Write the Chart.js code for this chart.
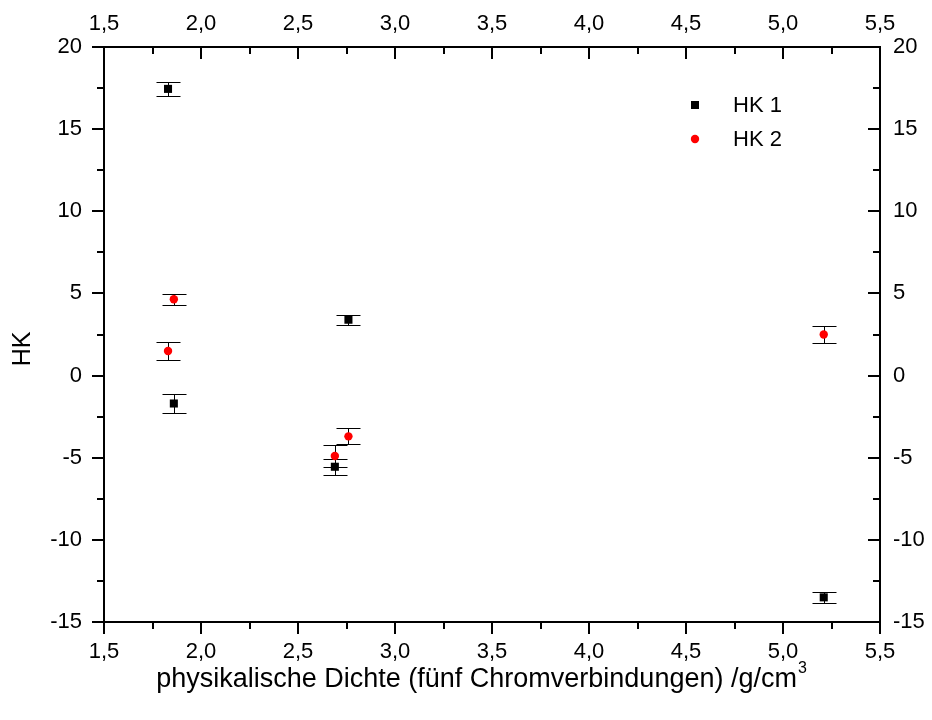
<!DOCTYPE html>
<html lang="de">
<head>
<meta charset="UTF-8">
<title>HK gegen physikalische Dichte</title>
<script src="https://cdn.jsdelivr.net/npm/chart.js"></script>
<style>
  html, body { margin: 0; padding: 0; background: #fff; }
  #wrap { width: 932px; height: 720px; }
</style>
</head>
<body>
<div id="wrap"><canvas id="hkChart" width="932" height="720"></canvas></div>
<script>
// Daten
const dichte = [1.83, 1.86, 2.69, 2.76, 5.21];
const hk1 = [17.45, -1.7, -5.55, 3.4, -13.5];
const hk1Fehler = [0.45, 0.6, 0.5, 0.3, 0.32];
const hk2 = [1.5, 4.65, -4.9, -3.7, 2.5];
const hk2Fehler = [0.54, 0.33, 0.69, 0.48, 0.54];
const serienNamen = ["HK 1", "HK 2"];
const xTitel = "physikalische Dichte (fünf Chromverbindungen) /g/cm";
const yTitel = "HK";

const FONT = "'Liberation Sans', Arial, sans-serif";
const komma = v => Number(v).toFixed(1).replace(".", ",");
const ganz = v => String(Math.round(v));

function punkte(ys) {
    return dichte.map((d, i) => ({ x: d, y: ys[i] }));
}

function achse(pos, min, max, step, cb, pad, groesse) {
    return {
        type: "linear",
        position: pos,
        min: min,
        max: max,
        grid: { display: false, drawTicks: false, tickLength: 0 },
        border: { display: true, color: "#000", width: 2 },
        ticks: { stepSize: step, callback: cb, color: "#000", padding: pad, font: { family: FONT, size: 22 } },
        afterFit: s => { if (pos === "left" || pos === "right") s.width = groesse; else s.height = groesse; }
    };
}

const extras = {
    id: "extras",
    beforeDatasetsDraw(chart) {
        const ctx = chart.ctx;
        const xs = chart.scales.x, ys = chart.scales.y;
        ctx.save();
        ctx.strokeStyle = "#000";
        ctx.lineWidth = 1;
        [[hk1, hk1Fehler], [hk2, hk2Fehler]].forEach(([werte, fehler]) => {
            werte.forEach((v, i) => {
                const px = Math.round(xs.getPixelForValue(dichte[i])) + 0.5;
                const oben = Math.round(ys.getPixelForValue(v + fehler[i])) + 0.5;
                const unten = Math.round(ys.getPixelForValue(v - fehler[i])) + 0.5;
                ctx.beginPath();
                ctx.moveTo(px, oben); ctx.lineTo(px, unten);
                ctx.moveTo(px - 12, oben); ctx.lineTo(px + 12, oben);
                ctx.moveTo(px - 12, unten); ctx.lineTo(px + 12, unten);
                ctx.stroke();
            });
        });
        ctx.restore();
    },
    afterDraw(chart) {
        const ctx = chart.ctx;
        const a = chart.chartArea;
        ctx.save();
        ctx.strokeStyle = "#000";
        ctx.lineWidth = 2;

        // Teilstriche: unten/links nach aussen, oben/rechts nach innen
        const striche = (scale, n, start, schritt, dir) => {
            for (let k = 0; k <= n; k++) {
                const v = start + k * schritt;
                const haupt = k % 2 === 0;
                const len = haupt ? 12 : 7;
                const p = Math.round(scale.getPixelForValue(v));
                ctx.beginPath();
                if (dir === "unten") { ctx.moveTo(p, a.bottom); ctx.lineTo(p, a.bottom + len); }
                if (dir === "oben") { ctx.moveTo(p, a.top); ctx.lineTo(p, a.top + len); }
                if (dir === "links") { ctx.moveTo(a.left, p); ctx.lineTo(a.left - len, p); }
                if (dir === "rechts") { ctx.moveTo(a.right, p); ctx.lineTo(a.right - len, p); }
                ctx.stroke();
            }
        };
        striche(chart.scales.x, 16, 1.5, 0.25, "unten");
        striche(chart.scales.x2, 16, 1.5, 0.25, "oben");
        striche(chart.scales.y, 14, -15, 2.5, "links");
        striche(chart.scales.y2, 14, -15, 2.5, "rechts");

        // Legende
        ctx.fillStyle = "#000";
        ctx.fillRect(691, 101, 8, 8);
        ctx.fillStyle = "#ff0000";
        ctx.beginPath(); ctx.arc(695, 139, 4.2, 0, Math.PI * 2); ctx.fill();
        ctx.fillStyle = "#000";
        ctx.font = "22px " + FONT;
        ctx.textAlign = "left";
        ctx.textBaseline = "middle";
        ctx.fillText(serienNamen[0], 733, 106);
        ctx.fillText(serienNamen[1], 733, 140);

        // Achsentitel
        ctx.save();
        ctx.font = "25px " + FONT;
        ctx.translate(23, 349);
        ctx.rotate(-Math.PI / 2);
        ctx.textAlign = "center";
        ctx.fillText(yTitel, 0, 0);
        ctx.restore();

        ctx.textBaseline = "alphabetic";
        ctx.font = "27px " + FONT;
        const w1 = ctx.measureText(xTitel).width;
        ctx.font = "16px " + FONT;
        const w2 = ctx.measureText("3").width;
        const x0 = 481 - (w1 + w2) / 2;
        ctx.font = "27px " + FONT;
        ctx.fillText(xTitel, x0, 687);
        ctx.font = "16px " + FONT;
        ctx.fillText("3", x0 + w1 + 1, 673);
        ctx.restore();
    }
};

new Chart(document.getElementById("hkChart"), {
    type: "scatter",
    data: {
        datasets: [
            { label: serienNamen[0], data: punkte(hk1), pointStyle: "rect", pointRadius: 5.7, borderWidth: 0, backgroundColor: "#000" },
            { label: serienNamen[1], data: punkte(hk2), pointStyle: "circle", pointRadius: 4.2, borderWidth: 0, backgroundColor: "#ff0000" }
        ]
    },
    options: {
        responsive: false,
        animation: false,
        devicePixelRatio: 1,
        layout: { padding: 0 },
        plugins: { legend: { display: false }, tooltip: { enabled: false } },
        scales: {
            x: achse("bottom", 1.5, 5.5, 0.5, komma, 17, 98),
            x2: achse("top", 1.5, 5.5, 0.5, komma, 10, 47),
            y: achse("left", -15, 20, 5, ganz, 22, 104),
            y2: achse("right", -15, 20, 5, ganz, 13, 52)
        }
    },
    plugins: [extras]
});
</script>
</body>
</html>
